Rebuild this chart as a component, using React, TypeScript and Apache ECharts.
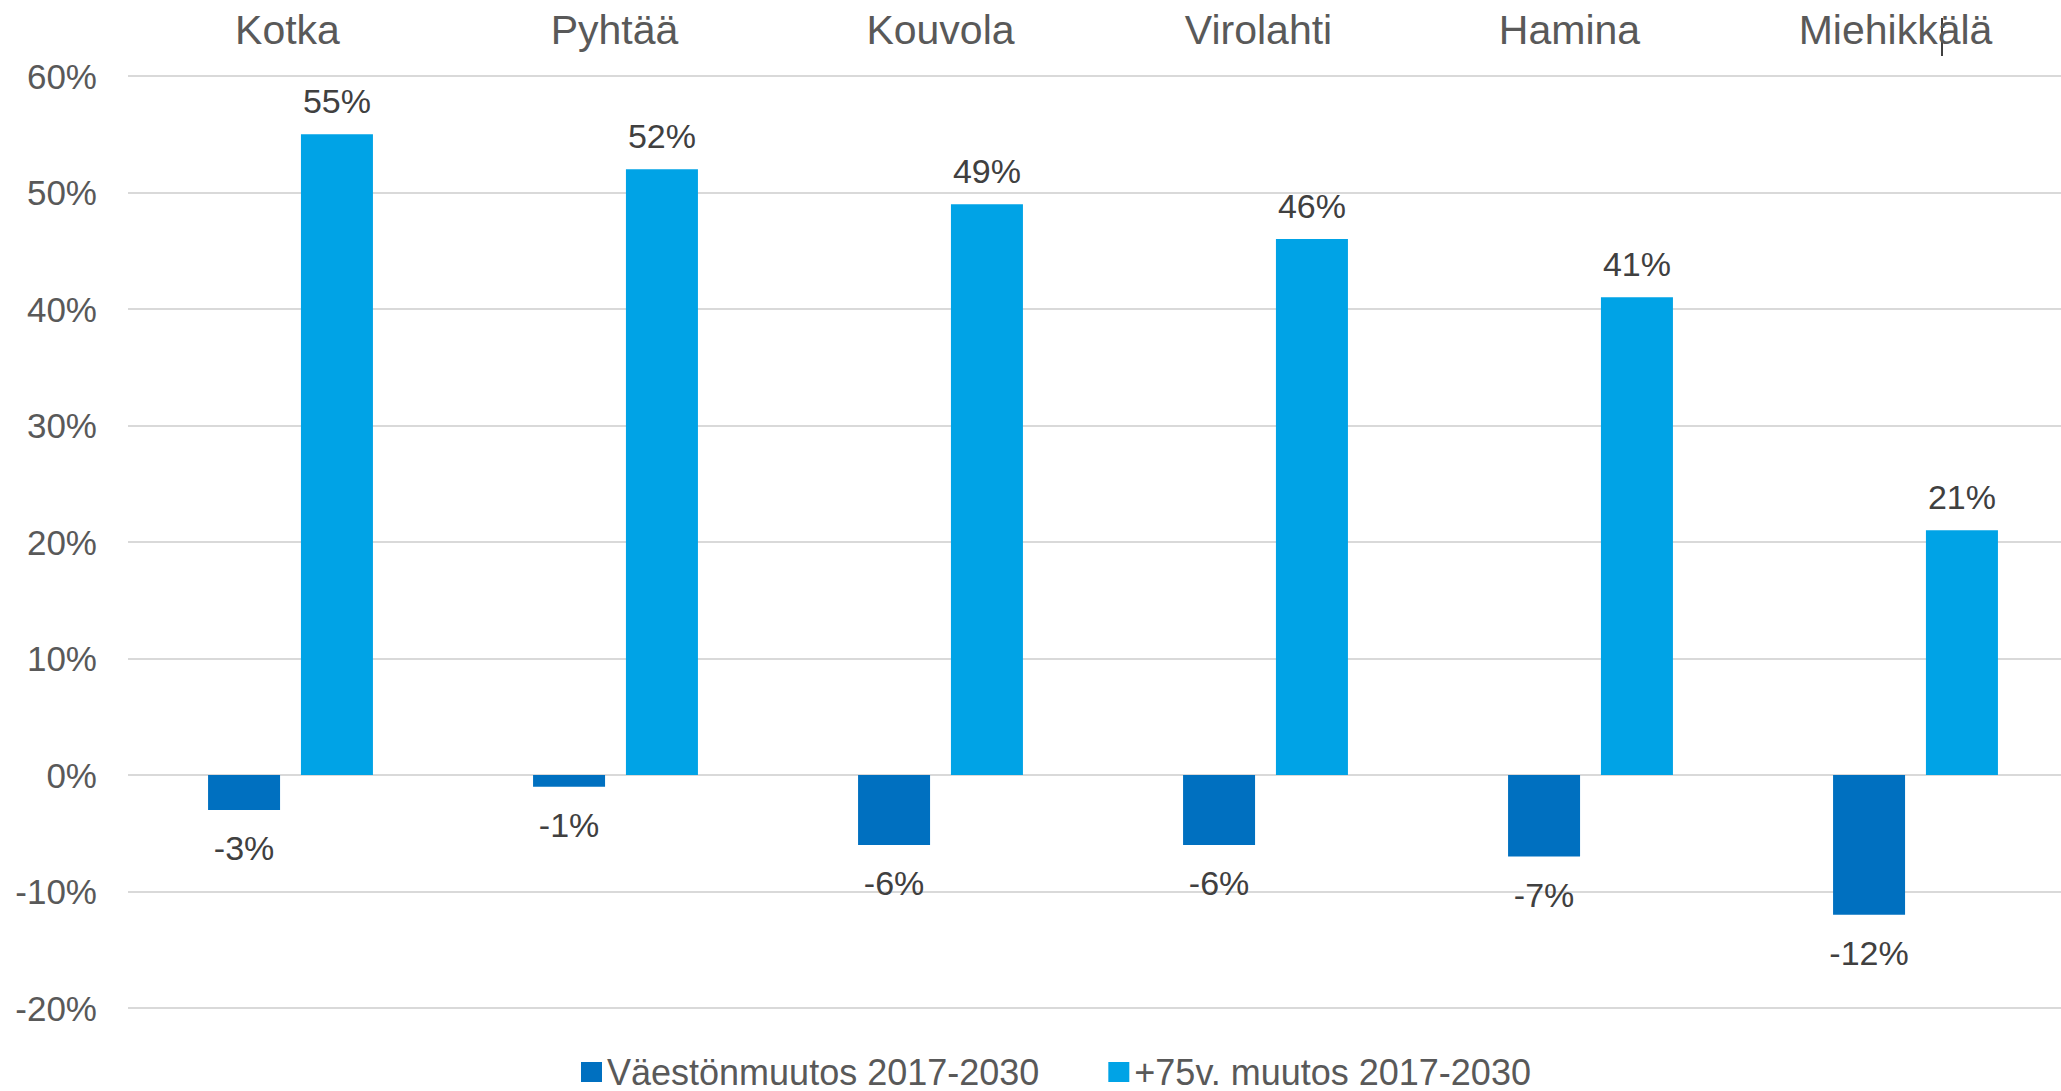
import React, { useEffect, useRef } from "react";
import * as echarts from "echarts";

const categories = ["Kotka", "Pyhtää", "Kouvola", "Virolahti", "Hamina", "Miehikkälä"];
const populationChange = [-3, -1, -6, -6, -7, -12];
const elderlyChange = [55, 52, 49, 46, 41, 21];
const seriesNames = ["Väestönmuutos 2017-2030", "+75v. muutos 2017-2030"];
const yMin = -20;
const yMax = 60;
const yInterval = 10;

// horizontal nudge of each category label (px, negative = left), styling only
const labelNudge = [-3, -1, 0, -7, -21, -20];

const FONT = "'Liberation Sans', Arial, sans-serif";

export default function App() {
  const ref = useRef<HTMLDivElement>(null);
  useEffect(() => {
    document.body.style.margin = "0";
    document.body.style.overflow = "hidden";
    const chart = echarts.init(ref.current!, null, { renderer: "svg" });
    const categoryData = categories.map((c, i) => {
      const n = labelNudge[i];
      const pad = n < 0 ? [0, -2 * n, 0, 0] : [0, 0, 0, 2 * n];
      return { value: c, textStyle: { padding: pad } };
    });
    chart.setOption({
      animation: false,
      backgroundColor: "#ffffff",
      textStyle: { fontFamily: FONT },
      grid: { left: 128, top: 76, width: 1950, height: 932, containLabel: false },
      legend: {
        left: 581,
        top: 1054,
        padding: 0,
        itemWidth: 21,
        itemHeight: 20,
        itemGap: 69,
        icon: "rect",
        textStyle: { fontSize: 36, lineHeight: 36, color: "#595959", fontFamily: FONT },
        data: seriesNames,
      },
      xAxis: {
        type: "category",
        data: categoryData,
        position: "top",
        axisLine: { show: false },
        axisTick: { show: false },
        axisLabel: { fontSize: 41, color: "#595959", margin: 26, fontFamily: FONT },
      },
      yAxis: {
        type: "value",
        min: yMin,
        max: yMax,
        interval: yInterval,
        axisLine: { show: false },
        axisTick: { show: false },
        splitLine: { lineStyle: { color: "#D9D9D9", width: 2 } },
        axisLabel: { formatter: "{value}%", fontSize: 35, color: "#595959", margin: 31, fontFamily: FONT },
      },
      series: [
        {
          name: seriesNames[0],
          type: "bar",
          data: populationChange,
          barWidth: 72,
          barGap: "29%",
          itemStyle: { color: "#0070C0" },
          label: {
            show: true,
            position: "bottom",
            distance: 21,
            formatter: "{c}%",
            fontSize: 34,
            color: "#404040",
            fontFamily: FONT,
          },
        },
        {
          name: seriesNames[1],
          type: "bar",
          data: elderlyChange,
          barWidth: 72,
          barGap: "29%",
          itemStyle: { color: "#00A3E6" },
          label: {
            show: true,
            position: "top",
            distance: 16,
            formatter: "{c}%",
            fontSize: 34,
            color: "#404040",
            fontFamily: FONT,
          },
        },
      ],
      graphic: [
        {
          type: "line",
          shape: { x1: 1942, y1: 18, x2: 1942, y2: 56 },
          style: { stroke: "#000000", lineWidth: 1.5 },
        },
      ],
    });
    return () => chart.dispose();
  }, []);
  return (
    <div
      ref={ref}
      style={{ position: "fixed", left: 0, top: 0, width: 2080, height: 1091 }}
    />
  );
}
